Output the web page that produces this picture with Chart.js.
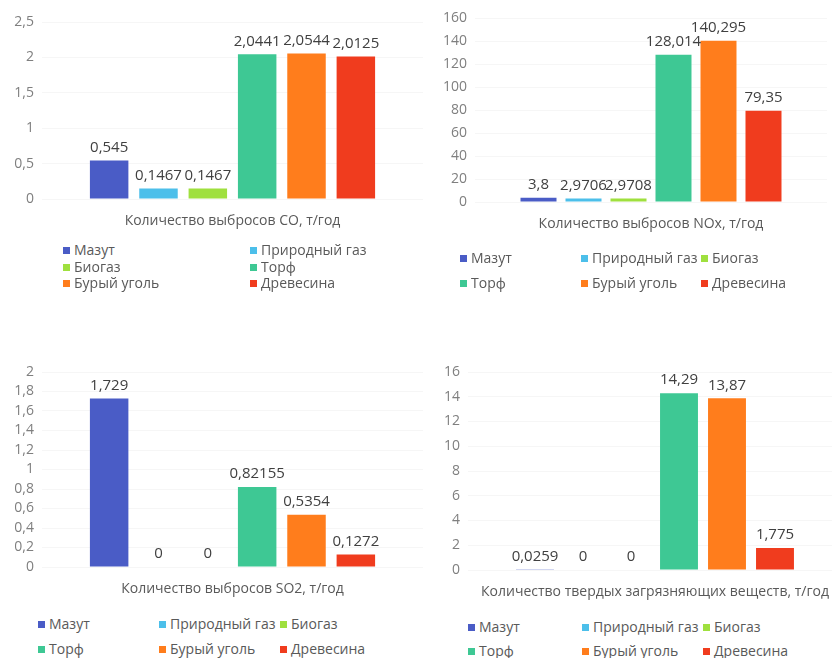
<!DOCTYPE html>
<html>
<head>
<meta charset="utf-8">
<script src="https://cdn.jsdelivr.net/npm/chart.js@4"></script>
<style>
  body { margin: 0; width: 832px; height: 658px; overflow: hidden; background: #fff; position: relative; font-family: 'Open Sans', sans-serif; }
  canvas { position: absolute; }
  .leg { position: absolute; font-size: 14px; line-height: 16px; color: #595959; white-space: nowrap; }
  .leg i { display: inline-block; width: 7px; height: 7px; margin-right: 4px; vertical-align: 1px; }
</style>
</head>
<body>
<canvas id="co" width="430" height="240" style="left:0;top:0"></canvas>
<canvas id="nox" width="417" height="244" style="left:415px;top:0"></canvas>
<canvas id="so2" width="430" height="254" style="left:0;top:355px"></canvas>
<canvas id="solid" width="432" height="257" style="left:415px;top:355px"></canvas>
<div id="legends"></div>
<script>
'use strict';

// data
let fuels = ['Мазут', 'Природный газ', 'Биогаз', 'Торф', 'Бурый уголь', 'Древесина'];
let fuelColors = ['#4a5cc6', '#4cbfea', '#9fe03e', '#3ec894', '#ff7d1c', '#f03c1e'];

let coLabel = 'Количество выбросов CO, т/год';
let coValues = [0.545, 0.1467, 0.1467, 2.0441, 2.0544, 2.0125];
let coTicks = [0, 0.5, 1, 1.5, 2, 2.5];

let noxLabel = 'Количество выбросов NOx, т/год';
let noxValues = [3.8, 2.9706, 2.9708, 128.014, 140.295, 79.35];
let noxTicks = [0, 20, 40, 60, 80, 100, 120, 140, 160];

let so2Label = 'Количество выбросов SO2, т/год';
let so2Values = [1.729, 0, 0, 0.82155, 0.5354, 0.1272];
let so2Ticks = [0, 0.2, 0.4, 0.6, 0.8, 1, 1.2, 1.4, 1.6, 1.8, 2];

let solidLabel = 'Количество твердых загрязняющих веществ, т/год';
let solidValues = [0.0259, 0, 0, 14.29, 13.87, 1.775];
let solidTicks = [0, 2, 4, 6, 8, 10, 12, 14, 16];

function fmt(v) {
  return String(v).replace('.', ',');
}

// value labels above the bars
let barLabels = {
  id: 'barLabels',
  afterDatasetsDraw(chart) {
    let ctx = chart.ctx;
    ctx.save();
    ctx.font = '15px "Open Sans"';
    ctx.fillStyle = '#404040';
    ctx.textAlign = 'center';
    ctx.textBaseline = 'middle';
    chart.data.datasets.forEach((ds, i) => {
      chart.getDatasetMeta(i).data.forEach((bar, j) => {
        ctx.fillText(fmt(ds.data[j]), bar.x, bar.y - 13);
      });
    });
    ctx.restore();
  }
};

function makeChart(id, category, values, ticks, layout) {
  let datasets = [];
  for (let i = 0; i < fuels.length; i++) {
    datasets.push({
      label: fuels[i],
      data: [values[i]],
      backgroundColor: fuelColors[i],
      barPercentage: layout.barPct,
      categoryPercentage: layout.catPct,
    });
  }
  return new Chart(document.getElementById(id), {
    type: 'bar',
    data: { labels: [category], datasets: datasets },
    plugins: [barLabels],
    options: {
      responsive: false,
      animation: false,
      layout: { padding: layout.padding },
      plugins: { legend: { display: false }, tooltip: { enabled: false } },
      scales: {
        x: {
          grid: { display: false, drawTicks: false },
          border: { display: false },
          ticks: { color: '#595959', font: { family: 'Open Sans', size: 14 }, padding: 14, maxRotation: 0 },
          afterFit: (s) => { s.height = 40; },
        },
        y: {
          min: ticks[0],
          max: ticks[ticks.length - 1],
          afterBuildTicks: (s) => { s.ticks = ticks.map(v => ({ value: v })); },
          grid: { color: 'rgba(0,0,0,0.035)', drawTicks: false },
          border: { display: false },
          ticks: { color: '#7f7f7f', font: { family: 'Open Sans', size: 14 }, padding: 8, autoSkip: false, callback: (v) => fmt(+v.toFixed(2)) },
          afterFit: (s) => { s.width = layout.yWidth; },
        },
      },
    },
  });
}

makeChart('co', coLabel, coValues, coTicks, { yWidth: 42, catPct: 0.777, barPct: 0.78, padding: { top: 22, right: 7, bottom: 1, left: 0 } });
makeChart('nox', noxLabel, noxValues, noxTicks, { yWidth: 60, catPct: 0.767, barPct: 0.8, padding: { top: 18, right: 5, bottom: 2, left: 0 } });
makeChart('so2', so2Label, so2Values, so2Ticks, { yWidth: 42, catPct: 0.777, barPct: 0.78, padding: { top: 17, right: 7, bottom: 2, left: 0 } });
makeChart('solid', solidLabel, solidValues, solidTicks, { yWidth: 53, catPct: 0.77, barPct: 0.79, padding: { top: 17, right: 5, bottom: 2, left: 0 } });

// html legends: column x positions and row y centres for each chart
let legendLayouts = [
  { cols: [63, 250], rows: [250, 267, 283] },
  { cols: [460, 581, 701], rows: [258, 283] },
  { cols: [38, 159, 280], rows: [624, 649] },
  { cols: [468, 582, 703], rows: [627, 651] },
];

let holder = document.getElementById('legends');
legendLayouts.forEach((lay) => {
  for (let i = 0; i < fuels.length; i++) {
    let col = i % lay.cols.length;
    let row = Math.floor(i / lay.cols.length);
    let div = document.createElement('div');
    div.className = 'leg';
    div.style.left = lay.cols[col] + 'px';
    div.style.top = (lay.rows[row] - 8) + 'px';
    let sq = document.createElement('i');
    sq.style.background = fuelColors[i];
    div.appendChild(sq);
    div.appendChild(document.createTextNode(fuels[i]));
    holder.appendChild(div);
  }
});
</script>
</body>
</html>
